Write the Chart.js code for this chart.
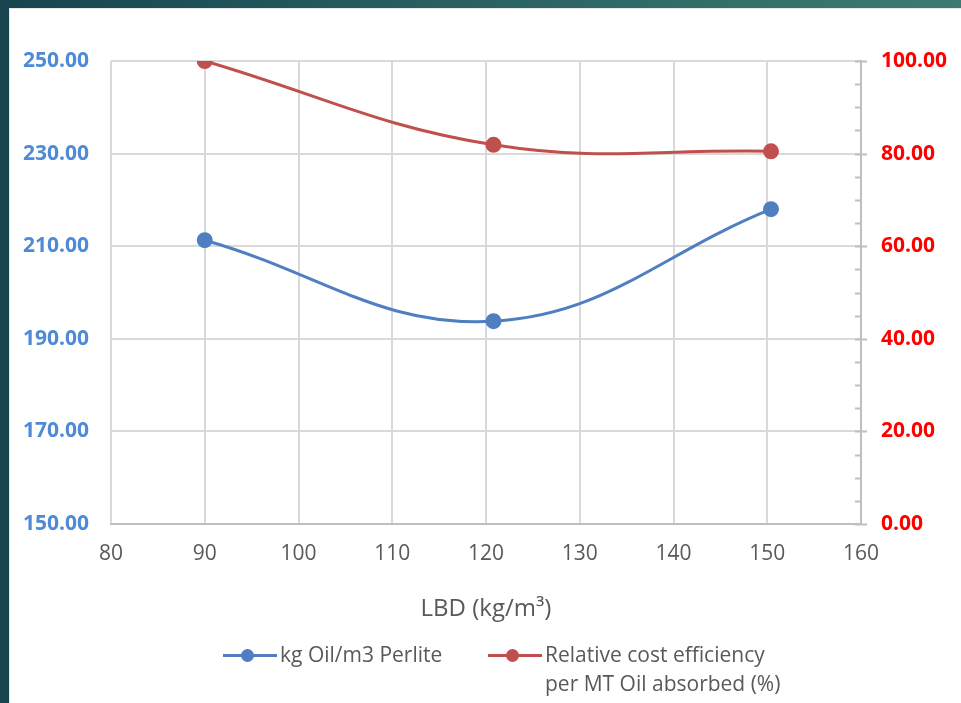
<!DOCTYPE html>
<html>
<head>
<meta charset="utf-8">
<script src="https://cdn.jsdelivr.net/npm/chart.js@4"></script>
<style>
  html, body { margin: 0; padding: 0; }
  body {
    width: 961px; height: 703px; overflow: hidden; position: relative;
    background: linear-gradient(to right, #17444f 0%, #2a6263 50%, #3d7b70 100%);
    font-family: "Open Sans", sans-serif;
  }
  #panel {
    position: absolute; left: 9px; top: 8px; width: 952px; height: 695px;
    background: #ffffff; border-top: 1px solid #e6e6e6; border-left: 1px solid #e6e6e6;
    box-sizing: border-box;
  }
  #grafico { position: absolute; left: 0; top: 0; }
  #leyenda {
    position: absolute; left: 0; top: 631px; width: 100%;
    font-size: 21px; color: #595959; line-height: 29px;
  }
  .item { position: absolute; top: 0; display: flex; align-items: flex-start; }
  .muestra { position: relative; width: 54px; height: 29px; margin-right: 3px; }
  .muestra .linea { position: absolute; left: 0; right: 0; top: 14px; height: 3px; }
  .muestra .punto { position: absolute; left: 18px; top: 9px; width: 13px; height: 13px; border-radius: 50%; }
</style>
</head>
<body>
<div id="panel">
  <canvas id="grafico" width="951" height="694"></canvas>
  <div id="leyenda"></div>
</div>
<script>
// datos
var lbd = [90, 120.8, 150.4];
var aceitePorM3 = [211.3, 193.8, 218.0];
var eficienciaRelativa = [100, 81.9, 80.5];
var nombresSeries = ["kg Oil/m3 Perlite", ["Relative cost efficiency", "per MT Oil absorbed (%)"]];
var ticksX = [80, 90, 100, 110, 120, 130, 140, 150, 160];
var ticksIzq = [150, 170, 190, 210, 230, 250];
var ticksDer = [0, 20, 40, 60, 80, 100];
var pasoMenorDer = 5;

var azul = "#4f7fc1";
var rojo = "#c0504d";

function puntos(xs, ys){
    var res = [];
    for (var i = 0; i < xs.length; i++) {
        res.push({x: xs[i], y: ys[i]});
    }
    return res;
}

// marcas del eje derecho (mayores cruzan, menores hacia dentro)
var marcasDerechas = {
    id: "marcasDerechas",
    afterDraw: function(chart){
        var s = chart.scales.y1;
        var ctx = chart.ctx;
        ctx.save();
        ctx.strokeStyle = "#bfbfbf";
        ctx.lineWidth = 2;
        for (var v = s.min; v <= s.max + 0.001; v += pasoMenorDer) {
            var y = Math.round(s.getPixelForValue(v)) + 0.5;
            var mayor = ticksDer.indexOf(v) >= 0;
            ctx.beginPath();
            ctx.moveTo(s.left - 6, y);
            ctx.lineTo(s.left + (mayor ? 6 : 0), y);
            ctx.stroke();
        }
        ctx.restore();
    }
};

var ctx = document.getElementById("grafico").getContext("2d");
var miGrafico = new Chart(ctx, {
    type: "line",
    data: {
        datasets: [{
                label: "kg Oil/m3 Perlite",
                data: puntos(lbd, aceitePorM3),
                borderColor: azul,
                backgroundColor: azul,
                borderWidth: 3,
                pointRadius: 6.5,
                pointHoverRadius: 6.5,
                tension: 0.4,
                yAxisID: "y"
            },
            {
                label: "Relative cost efficiency per MT Oil absorbed (%)",
                data: puntos(lbd, eficienciaRelativa),
                borderColor: rojo,
                backgroundColor: rojo,
                borderWidth: 3,
                pointRadius: 6.5,
                pointHoverRadius: 6.5,
                tension: 0.4,
                yAxisID: "y1"
            }
        ]
    },
    options: {
        responsive: false,
        animation: false,
        layout: { padding: { top: 52, bottom: 79, left: 0, right: 0 } },
        plugins: {
            legend: { display: false },
            tooltip: { enabled: false }
        },
        scales: {
            x: {
                type: "linear",
                min: 80, max: 160,
                afterBuildTicks: function(s){ s.ticks = ticksX.map(function(v){ return {value: v}; }); },
                grid: { color: "#d9d9d9", lineWidth: 2, drawTicks: false },
                border: { color: "#bfbfbf", width: 2 },
                ticks: {
                    padding: 17,
                    color: "#595959",
                    font: { family: "Open Sans", size: 21 }
                },
                title: {
                    display: true,
                    text: "LBD (kg/m³)",
                    color: "#595959",
                    font: { family: "Open Sans", size: 24 },
                    padding: { top: 12, bottom: 0 }
                }
            },
            y: {
                position: "left",
                min: 150, max: 250,
                afterBuildTicks: function(s){ s.ticks = ticksIzq.map(function(v){ return {value: v}; }); },
                afterFit: function(s){ s.width = 101; },
                grid: { color: "#d9d9d9", lineWidth: 2, drawTicks: false },
                border: { display: false },
                ticks: {
                    padding: 22,
                    color: "#4f8ad6",
                    font: { family: "Open Sans", size: 21, weight: "bold" },
                    callback: function(v){ return v.toFixed(2); }
                }
            },
            y1: {
                position: "right",
                min: 0, max: 100,
                afterBuildTicks: function(s){ s.ticks = ticksDer.map(function(v){ return {value: v}; }); },
                afterFit: function(s){ s.width = 100; },
                grid: { drawOnChartArea: false, drawTicks: false },
                border: { color: "#bfbfbf", width: 2 },
                ticks: {
                    padding: 20,
                    color: "#ff0000",
                    font: { family: "Open Sans", size: 21, weight: "bold" },
                    callback: function(v){ return v.toFixed(2); }
                }
            }
        }
    },
    plugins: [marcasDerechas]
});

// leyenda en html (la segunda etiqueta va en dos lineas)
var posLeyenda = [213, 478];
var coloresLeyenda = [azul, rojo];
var leyenda = document.getElementById("leyenda");
for (var i = 0; i < nombresSeries.length; i++) {
    var texto = [].concat(nombresSeries[i]).join("<br>");
    var item = "<div class='item' style='left:" + posLeyenda[i] + "px'>" +
        "<div class='muestra'><div class='linea' style='background:" + coloresLeyenda[i] + "'></div>" +
        "<div class='punto' style='background:" + coloresLeyenda[i] + "'></div></div>" +
        "<div>" + texto + "</div></div>";
    leyenda.insertAdjacentHTML("beforeend", item);
}
</script>
</body>
</html>
